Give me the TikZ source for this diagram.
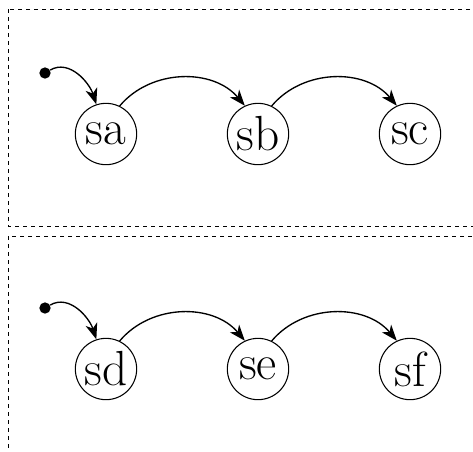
\documentclass[tikz,border=0pt]{standalone}
\usetikzlibrary{arrows.meta}
\begin{document}
\begin{tikzpicture}[x=0.75pt,y=-0.75pt,
  stnode/.style={circle,draw,line width=0.8pt,minimum size=46pt,inner sep=0pt,font=\fontsize{37}{42}\selectfont},
  frame/.style={draw,dashed,line width=0.7pt},
  startdot/.style={circle,fill,inner sep=0pt,minimum size=8.5pt},
  link/.style={line width=1pt,-{Stealth[length=12pt,width=9pt,inset=3.5pt]}}]
\useasboundingbox (0,0) rectangle (473,451);
\clip (0,0) rectangle (473,451);
\draw[frame] (8,9) rectangle (490,226);
\draw[frame] (8,236) rectangle (490,470);
% top row
\node[stnode] (sa) at (106,134) {sa};
\node[stnode] (sb) at (258,134) {sb};
\node[stnode] (sc) at (410,134) {sc};
\node[startdot] (d1) at (45,73) {};
\draw[link] (d1) to[out=30,in=108] (sa.108);
\draw[link] (sa.64) to[out=50,in=130] (sb.115);
\draw[link] (sb.64) to[out=50,in=130] (sc.115);
% bottom row
\node[stnode] (sd) at (106,369) {sd};
\node[stnode] (se) at (258,369) {se};
\node[stnode] (sf) at (410,369) {sf};
\node[startdot] (d2) at (45,308) {};
\draw[link] (d2) to[out=30,in=108] (sd.108);
\draw[link] (sd.64) to[out=50,in=130] (se.115);
\draw[link] (se.64) to[out=50,in=130] (sf.115);
\end{tikzpicture}
\end{document}
